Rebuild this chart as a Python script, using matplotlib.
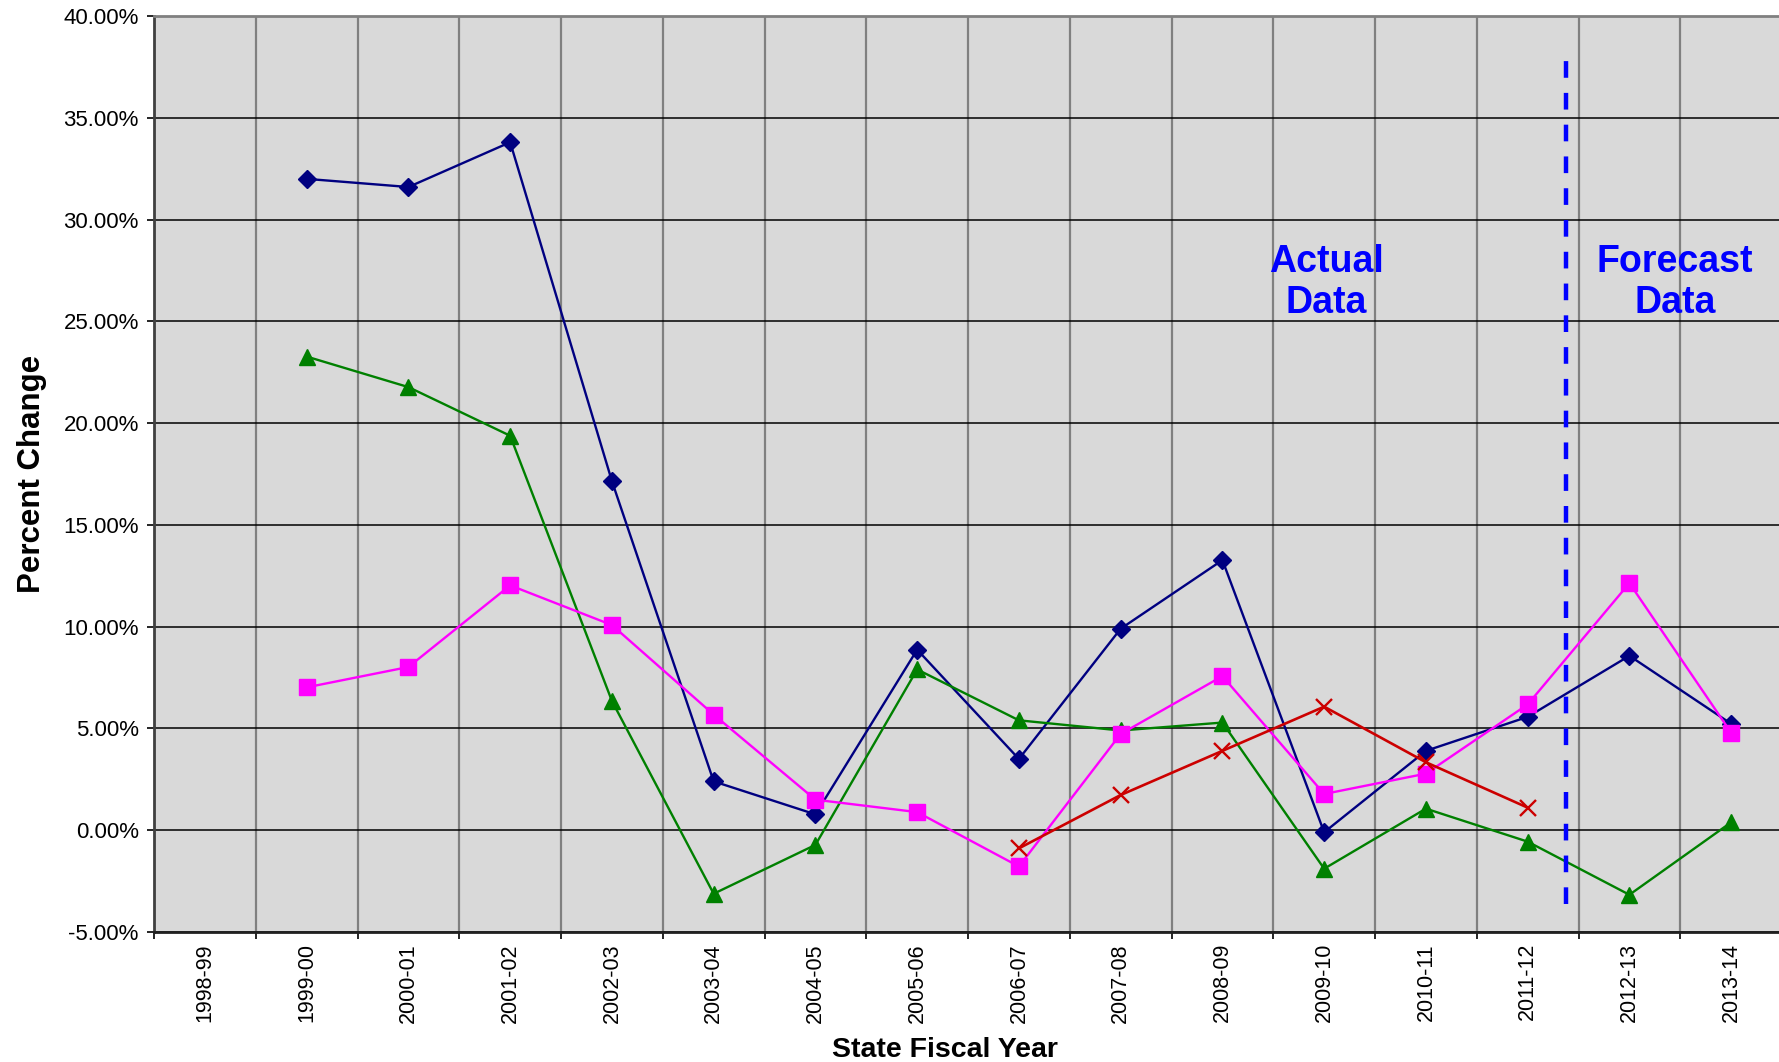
import numpy as np
import matplotlib.pyplot as plt

plt.rcParams['font.family'] = ['Liberation Sans', 'DejaVu Sans']

# State fiscal years on the x axis
years = ['1998-99', '1999-00', '2000-01', '2001-02', '2002-03', '2003-04',
         '2004-05', '2005-06', '2006-07', '2007-08', '2008-09', '2009-10',
         '2010-11', '2011-12', '2012-13', '2013-14']

# Percent change per series, nan = no point
navy_vals = [np.nan, 32.0, 31.6, 33.8, 17.15, 2.4, 0.78, 8.87, 3.5, 9.9,
             13.27, -0.1, 3.9, 5.57, 8.57, 5.23]
green_vals = [np.nan, 23.27, 21.77, 19.38, 6.35, -3.12, -0.72, 7.9, 5.4, 4.9,
              5.29, -1.89, 1.06, -0.56, -3.17, 0.39]
magenta_vals = [np.nan, 7.02, 8.02, 12.03, 10.08, 5.68, 1.5, 0.89, -1.78, 4.73,
                7.57, 1.78, 2.78, 6.18, 12.14, 4.79]
red_vals = [np.nan, np.nan, np.nan, np.nan, np.nan, np.nan, np.nan, np.nan,
            -0.89, 1.73, 3.9, 6.07, 3.34, 1.11, np.nan, np.nan]

y_ticks = [-5, 0, 5, 10, 15, 20, 25, 30, 35, 40]

x = np.arange(len(years))

fig = plt.figure(figsize=(17.79, 10.62), dpi=100)
ax = fig.add_axes([0.0866, 0.1224, 0.9151, 0.8625])
ax.set_facecolor('#D9D9D9')

ax.plot(x, navy_vals, color='#000080', lw=1.7, marker='D', ms=9, mec='#000080', zorder=4)
ax.plot(x, green_vals, color='#008000', lw=1.7, marker='^', ms=12, mec='#008000', zorder=4)
ax.plot(x, magenta_vals, color='#FF00FF', lw=1.7, marker='s', ms=11, mec='#FF00FF', zorder=4)
ax.plot(x, red_vals, color='#CC0000', lw=1.9, marker='x', ms=11, mew=1.7, zorder=4)

# actual / forecast divider
ax.plot([13.38, 13.38], [-3.6, 38.4], color='#0000FF', lw=3.2,
        linestyle=(0, (3.75, 3.4)), zorder=5)

ax.text(11.02, 26.9, 'Actual\nData', color='#0000FF', fontsize=27, fontweight='bold',
        ha='center', va='center', linespacing=1.2, zorder=6)
ax.text(14.45, 26.9, 'Forecast\nData', color='#0000FF', fontsize=27, fontweight='bold',
        ha='center', va='center', linespacing=1.2, zorder=6)

ax.set_xlim(-0.5, len(years) - 0.5)
ax.set_ylim(-5, 40)
ax.set_yticks(y_ticks)
ax.set_yticklabels(['%.2f%%' % v for v in y_ticks], fontsize=16)
ax.set_xticks(x)
ax.set_xticklabels(years, rotation=90, fontsize=15.5)
ax.set_xticks(np.arange(-0.5, len(years), 1), minor=True)
ax.tick_params(axis='x', which='major', length=0, pad=8)
ax.tick_params(axis='x', which='minor', length=5, width=1.2, color='black')
ax.tick_params(axis='y', length=5, width=1.2, pad=6)

ax.grid(axis='y', which='major', color='black', lw=1.1, zorder=1)
ax.grid(axis='x', which='minor', color='#808080', lw=1.6, zorder=1)
ax.set_axisbelow(True)

ax.spines['top'].set_color('#808080')
ax.spines['top'].set_linewidth(2)
ax.spines['right'].set_visible(False)
ax.spines['left'].set_color('#404040')
ax.spines['left'].set_linewidth(2)
ax.spines['bottom'].set_color('#202020')
ax.spines['bottom'].set_linewidth(2)

ax.set_xlabel('State Fiscal Year', fontsize=20.5, fontweight='bold', labelpad=10)
ax.xaxis.set_label_coords(0.486, -0.115)
ax.set_ylabel('Percent Change', fontsize=22.5, fontweight='bold', labelpad=12)

fig.savefig('out.png', dpi=100)
